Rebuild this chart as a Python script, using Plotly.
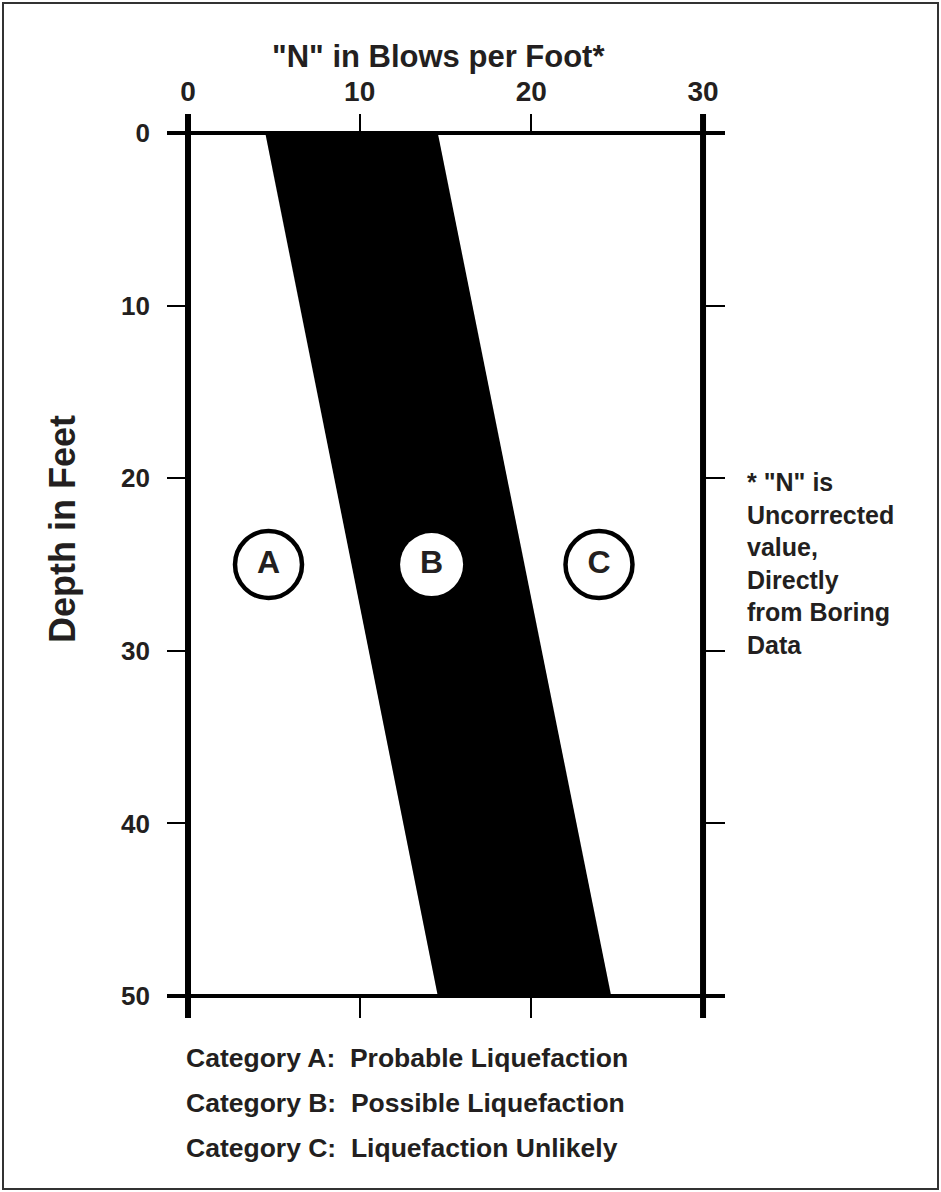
import plotly.graph_objects as go

# ---------------- data ----------------
band_depth = [0, 50]          # depth in feet
band_left = [4.5, 14.55]      # N at left edge of Category B band
band_right = [14.55, 24.65]   # N at right edge of Category B band

circle_labels = ["A", "B", "C"]
circle_n = [4.69, 14.19, 23.94]
circle_depth = [25, 25, 25]

x_ticks = [0, 10, 20, 30]
x_ticktext = ["0", "10", "20", "30"]
x_minor_ticks = [10, 20]
y_ticks = [0, 10, 20, 30, 40, 50]
y_ticktext = ["0", "10", "20", "30", "40", "50"]
y_right_ticks = [10, 20, 30, 40]

x_title = '"N" in Blows per Foot*'
y_title = "Depth in Feet"
note_lines = ['* "N" is', "Uncorrected", "value,", "Directly", "from Boring", "Data"]
legend_lines = [
    "Category A:  Probable Liquefaction",
    "Category B:  Possible Liquefaction",
    "Category C:  Liquefaction Unlikely",
]

# ---------------- layout constants ----------------
W, H = 941, 1192
ML, MR, MT, MB = 167, 216, 114, 174
PW, PH = W - ML - MR, H - MT - MB
XR = [-1.223, 31.28]
YR = [51.27, -1.10]
FONT = "Liberation Sans, Arial, sans-serif"
TXT = "#231f20"

def px_x(p):
    return (p - ML) / PW

def px_y(p):
    return (H - MB - p) / PH

fig = go.Figure()

# band (Category B)
poly_x = band_left + band_right[::-1]
poly_y = band_depth + band_depth[::-1]
fig.add_trace(go.Scatter(
    x=poly_x, y=poly_y, fill="toself", fillcolor="black",
    line=dict(width=0, color="black"), mode="lines",
    hoverinfo="skip", showlegend=False, xaxis="x", yaxis="y"))

# circled category letters
fig.add_trace(go.Scatter(
    x=circle_n, y=circle_depth, mode="markers+text",
    text=circle_labels, textposition="middle center",
    textfont=dict(family=FONT, size=32, color=TXT, weight="bold"),
    marker=dict(size=[67, 63, 67], color="white", opacity=1,
                line=dict(width=[4.5, 0, 4.5], color="black")),
    hoverinfo="skip", showlegend=False, xaxis="x2", yaxis="y2"))

axis_common = dict(showgrid=False, zeroline=False, showline=False,
                   ticks="inside", tickcolor="black", tickwidth=1.5)

fig.update_layout(
    width=W, height=H,
    margin=dict(l=ML, r=MR, t=MT, b=MB),
    paper_bgcolor="white", plot_bgcolor="white",
    font=dict(family=FONT, color=TXT),
    xaxis=dict(range=XR, tickvals=x_minor_ticks, ticklen=22,
               showticklabels=False, side="bottom", **axis_common),
    xaxis2=dict(range=XR, tickvals=x_ticks, ticktext=x_ticktext, ticklen=19,
                side="top", overlaying="x", ticklabelstandoff=6,
                tickfont=dict(family=FONT, size=28, color=TXT, weight="bold"),
                **axis_common),
    yaxis=dict(range=YR, tickvals=y_ticks, ticktext=y_ticktext, ticklen=21,
               side="left", ticklabelstandoff=16,
               tickfont=dict(family=FONT, size=26, color=TXT, weight="bold"),
               **axis_common),
    yaxis2=dict(range=YR, tickvals=y_right_ticks, ticklen=22, side="right",
                overlaying="y", showticklabels=False, **axis_common),
)

# frame lines
shapes = []
for xv in [x_ticks[0], x_ticks[-1]]:
    shapes.append(dict(type="line", xref="x", yref="y", x0=xv, x1=xv,
                       y0=YR[1], y1=YR[0], line=dict(color="black", width=6)))
for yv in [y_ticks[0], y_ticks[-1]]:
    shapes.append(dict(type="line", xref="x", yref="y", x0=XR[0], x1=XR[1],
                       y0=yv, y1=yv, line=dict(color="black", width=4)))
# outer border
shapes.append(dict(type="rect", xref="paper", yref="paper",
                   x0=px_x(3), x1=px_x(938), y0=px_y(1189), y1=px_y(3),
                   line=dict(color="#333333", width=2), fillcolor="rgba(0,0,0,0)"))
fig.update_layout(shapes=shapes)

ann = []
ann.append(dict(text=x_title, xref="paper", yref="paper", x=px_x(438), y=px_y(56),
                xanchor="center", yanchor="middle", showarrow=False,
                font=dict(family=FONT, size=31, color=TXT, weight="bold")))
ann.append(dict(text=y_title, xref="paper", yref="paper", x=px_x(62), y=px_y(529),
                xanchor="center", yanchor="middle", showarrow=False, textangle=-90,
                font=dict(family=FONT, size=36, color=TXT, weight="bold")))
ann.append(dict(text="<br>".join(note_lines), xref="paper", yref="paper",
                x=px_x(745), y=px_y(563), xanchor="left", yanchor="middle",
                align="left", showarrow=False,
                font=dict(family=FONT, size=25, color=TXT, weight="bold")))
for i, line in enumerate(legend_lines):
    ann.append(dict(text=line, xref="paper", yref="paper", x=px_x(184),
                    y=px_y(1058 + 45 * i), xanchor="left", yanchor="middle",
                    showarrow=False,
                    font=dict(family=FONT, size=26.5, color=TXT, weight="bold")))
fig.update_layout(annotations=ann)

fig.write_html("out.html",
               config={"displayModeBar": False},
               post_script="document.body.style.margin='0';document.body.style.overflow='hidden';")
